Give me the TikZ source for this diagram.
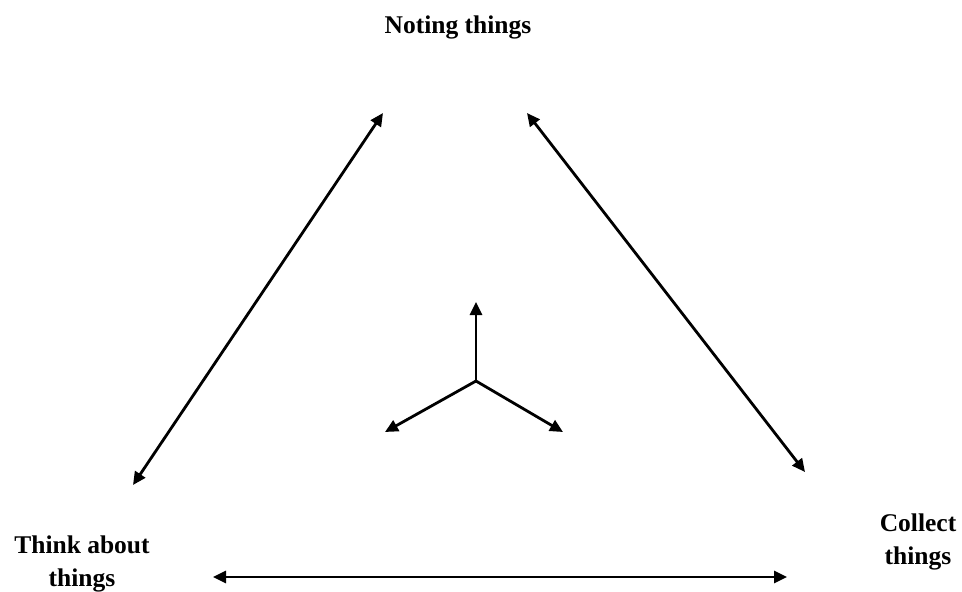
\documentclass[tikz,border=0pt]{standalone}
\usepackage{fontspec}
\setmainfont{Liberation Serif}
\usetikzlibrary{arrows.meta}
\begin{document}
\begin{tikzpicture}[x=1pt,y=-1pt,
  lbl/.style={font=\fontsize{25.5}{33}\selectfont\bfseries, align=center, inner sep=0pt},
  tip/.style={Triangle[length=13pt,width=12pt]},
  conn/.style={line width=2.8pt, {Triangle[length=13pt,width=12pt]}-{Triangle[length=13pt,width=12pt]}},
  ray/.style={line width=2.8pt, -{Triangle[length=13pt,width=12pt]}}]
\useasboundingbox (0,0) rectangle (962,592);
\node[lbl] (note) at (458,27) {Noting things};
\node[lbl] (think) at (82,564) {Think about\\things};
\node[lbl] (collect) at (918,542) {Collect\\things};
\coordinate (l1) at (383,113);
\coordinate (l2) at (133,485);
\coordinate (r1) at (527,113);
\coordinate (r2) at (805,472);
\coordinate (b1) at (213,577);
\coordinate (b2) at (787,577);
\coordinate (o) at (476,381);
\coordinate (cu) at (476,302);
\coordinate (cl) at (385,432);
\coordinate (cr) at (563,432);
\draw[conn] (l2) -- (l1);
\draw[conn] (r1) -- (r2);
\draw[conn] (b1) -- (b2);
\draw[ray] (o) -- (cu);
\draw[ray] (o) -- (cl);
\draw[ray] (o) -- (cr);
\end{tikzpicture}
\end{document}
